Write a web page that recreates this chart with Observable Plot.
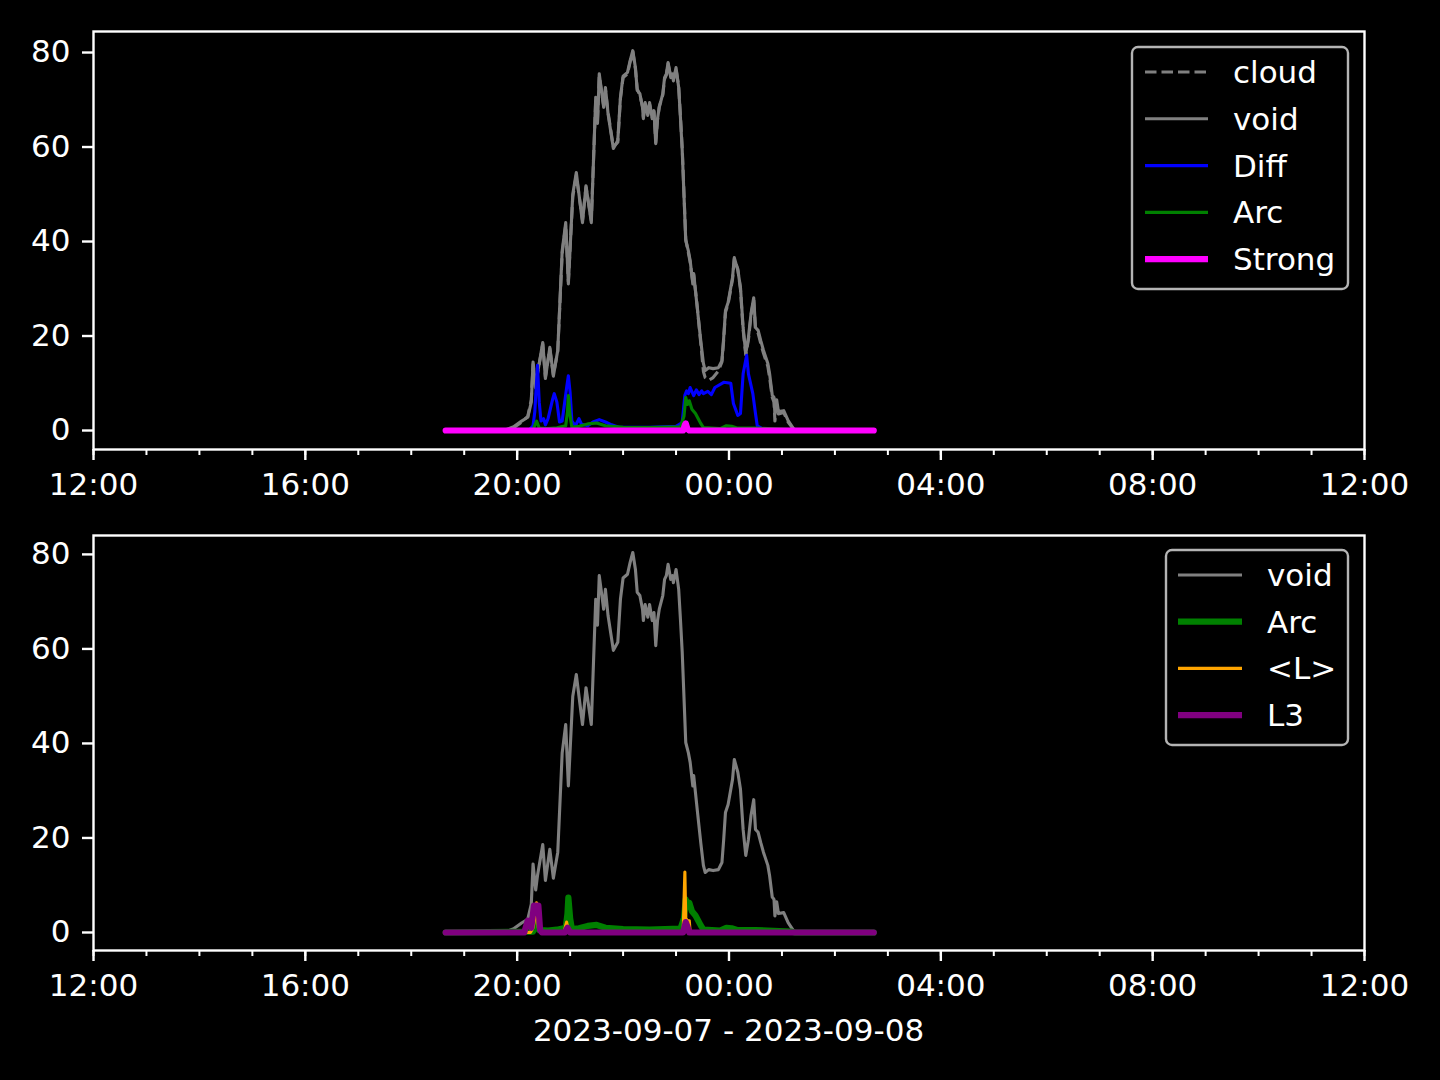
<!DOCTYPE html>
<html>
<head>
<meta charset="utf-8">
<script src="https://cdn.jsdelivr.net/npm/d3@7"></script>
<script src="https://cdn.jsdelivr.net/npm/@observablehq/plot@0.6"></script>
<style>
  html, body { margin: 0; padding: 0; background: #000; }
  #root { position: relative; width: 1440px; height: 1080px; background: #000; overflow: hidden;
          font-family: "DejaVu Sans", sans-serif; color: #fff; }
  .panel { position: absolute; left: 0; }
  .legend { position: absolute; left: 0; top: 0; }
  #xlabel { position: absolute; left: 0; width: 1457px; top: 1010px; text-align: center;
            font-size: 31px; line-height: 40px; }
</style>
</head>
<body>
<div id="root">
  <div id="top" class="panel" style="top:0px"></div>
  <div id="bottom" class="panel" style="top:504px"></div>
  <div id="xlabel"></div>
</div>
<script>
// ---------------- data ----------------
const xLabel = "2023-09-07 - 2023-09-08";
const xDomain = ["2023-09-07T12:00Z", "2023-09-08T12:00Z"];
const majorTickTimes = ["2023-09-07T12:00Z","2023-09-07T16:00Z","2023-09-07T20:00Z","2023-09-08T00:00Z","2023-09-08T04:00Z","2023-09-08T08:00Z","2023-09-08T12:00Z"];
const yTicks = [0, 20, 40, 60, 80];

// shared time grid for void / cloud (HH:MM, hours < 12 belong to 2023-09-08)
const voidTimes = ["18:39","19:45","19:56","20:05","20:12","20:16","20:18","20:21","20:23","20:29",
  "20:32","20:37","20:41","20:46","20:51","20:55","20:58","21:03","21:07","21:14",
  "21:18","21:24","21:29","21:31","21:33","21:38","21:40","21:43","21:49","21:54",
  "21:57","22:00","22:05","22:08","22:11","22:14","22:16","22:19","22:22","22:23",
  "22:25","22:28","22:30","22:33","22:35","22:37","22:39","22:41","22:45","22:47",
  "22:49","22:51","22:54","22:56","22:57","23:00","23:03","23:05","23:07","23:11",
  "23:14","23:16","23:19","23:20","23:24","23:28","23:31","23:33","23:37","23:42",
  "23:48","23:52","23:54","23:56","23:59","00:04","00:06","00:10","00:13","00:16",
  "00:19","00:22","00:25","00:28","00:30","00:33","00:36","00:39","00:44","00:46",
  "00:49","00:51","00:52","00:54","00:56","01:02","01:07","01:13","01:16","02:44"];
const voidValues = [0,0,0.8,2,2.8,6,14.5,9,12,18.6,
  11,17.6,11.5,17,38,44,31,50,54.6,44,
  51.8,44,70.5,65,75.5,68.4,72.6,67,59.7,61.4,
  70.5,75,75.8,78.3,80.4,76.8,72,71.3,68.4,66,
  69.4,66.7,69.4,66,67.7,60.7,66,68.4,71.3,74.7,
  75.5,77.9,74.7,75.5,74,76.8,72.6,66.2,59.3,40.2,
  38,36,31,33.2,26,19,14.2,12.7,13.3,13.1,
  13.3,14.8,19.7,25.4,27.1,32.4,36.6,33.9,30.3,21.8,
  16.3,19.7,24.8,28.1,21.8,21.2,19,17,14.2,12,
  7.5,7,3.5,6.5,4,4.2,2.1,0.4,0,0];
const cloudValues = [0,0,0.6,1.8,3,6.5,14,9.5,12,18.3,
  11.3,17.3,11.8,16.8,37.5,43.5,31.5,49.5,54,44.5,
  51.5,44.5,70,65.5,75,68.8,72.2,67.3,60,61,
  70.2,74.7,75.5,78,80.2,76.5,72.3,71,68.6,66.3,
  69.1,67,69.1,66.3,67.4,61,65.7,68.6,71,74.4,
  75.2,77.6,74.9,75.2,74.3,76.5,72.8,66.5,59.8,40.5,
  37.6,35.6,31.3,33,26.3,18.5,12.5,11.2,10.6,11.2,
  12.6,14.5,19.2,25,26.8,32,36.3,34.2,29.8,21.3,
  16,19.2,24.4,27.8,21.3,20.6,18.4,16.4,13.6,11.2,
  7,6,2,5.5,3.5,3.8,1.8,0.3,0,0];

const diffTimes = ["18:39","20:14","20:18","20:20","20:23","20:25","20:27","20:30","20:32","20:35",
  "20:40","20:42","20:45","20:48","20:51","20:56","20:58","21:00","21:02","21:06",
  "21:10","21:13","21:20","21:26","21:33","21:40","21:47","21:55","22:30","23:00",
  "23:07","23:10","23:12","23:14","23:16","23:20","23:23","23:26","23:29","23:31",
  "23:36","23:40","23:44","23:54","00:02","00:05","00:10","00:13","00:16","00:20",
  "00:22","00:27","00:30","00:32","00:40","02:44"];
const diffValues = [0,0.2,1,4,13.8,6,2,2.5,1.2,2.5,
  6.5,7.8,6,1.8,2,9,11.6,8,2,1,
  2.5,1.3,1,1.8,2.3,1.8,1.2,0.7,0.7,0.9,
  1.7,7.5,8.4,7.8,9.1,7.4,8.6,7.6,8.4,7.8,
  8.3,7.6,9.1,10.2,10,5.7,3.2,3.6,12,15.9,
  12,7.8,3.6,1,0.2,0];

const arcTimes = ["18:39","20:18","20:22","20:25","20:35","20:45","20:55","20:57","20:58","21:00",
  "21:02","21:10","21:20","21:30","21:40","22:00","22:30","23:05","23:09","23:11",
  "23:13","23:15","23:18","23:22","23:28","23:31","23:50","23:57","00:03","00:10",
  "00:30","01:10","01:15","02:44"];
const arcValues = [0,0.2,2,0.5,0.4,0.6,1,4,7.4,3,
  0.7,0.9,1.4,1.6,1,0.7,0.6,0.8,3,7,
  5.5,6.3,4.5,3.6,1.5,0.6,0.4,1,0.9,0.5,
  0.5,0.2,0,0];

const strongTimes = ["18:39","23:08","23:10","23:11","23:13","23:15","02:44"];
const strongValues = [0,0,1.2,1.5,0.3,0,0];

const lAvgTimes = ["18:39","20:15","20:18","20:20","20:22","20:24","20:28","20:53","20:56","20:58",
  "21:00","23:08","23:10","23:11","23:13","23:15","23:16","02:44"];
const lAvgValues = [0,0,1,3,6.3,1,0,0,2.2,0.3,
  0,0,12.8,3,2.5,2.5,0,0];

const l3Times = ["18:39","20:08","20:12","20:14","20:16","20:19","20:24","20:26","20:28","20:54",
  "20:57","21:00","23:08","23:10","23:11","23:13","23:15","02:44"];
const l3Values = [0,0,2.5,2,1,5.7,5.7,0.5,0,0,
  1,0,0,1.5,2.2,1.2,0,0];

// ---------------- helpers ----------------
function toDate(hm) {
  const [h, m] = hm.split(":").map(Number);
  return new Date(Date.UTC(2023, 8, h >= 12 ? 7 : 8, h, m));
}
function series(times, values) {
  return times.map((t, i) => ({t: toDate(t), v: values[i]}));
}
const cloud = series(voidTimes, cloudValues);
const voidS = series(voidTimes, voidValues);
const diff = series(diffTimes, diffValues);
const arc = series(arcTimes, arcValues);
const strong = series(strongTimes, strongValues);
const lAvg = series(lAvgTimes, lAvgValues);
const l3 = series(l3Times, l3Values);

const majorTicks = majorTickTimes.map(d => new Date(d));
const minorTicks = d3.utcHour.range(new Date(xDomain[0]), d3.utcHour.offset(new Date(xDomain[1]), 1));

const FONT = "DejaVu Sans, sans-serif";
const FS = 31;
const W1 = 3.1, W2 = 6.2;

function line(data, color, width, dash) {
  return Plot.line(data, {x: "t", y: "v", stroke: color, strokeWidth: width,
    strokeLinejoin: "round", strokeLinecap: dash ? "butt" : "round",
    strokeDasharray: dash || null});
}

function panel(lineMarks, yDomain, plotH) {
  return Plot.plot({
    width: 1440, height: 505,
    marginTop: 31, marginLeft: 93, marginRight: 76, marginBottom: 505 - 31 - plotH,
    style: {background: "#000", color: "#fff", fontFamily: FONT, fontSize: FS + "px", overflow: "visible"},
    x: {type: "utc", domain: xDomain.map(d => new Date(d))},
    y: {domain: yDomain},
    marks: [
      ...lineMarks,
      Plot.frame({stroke: "#fff", strokeWidth: 2.4}),
      Plot.axisX({ticks: minorTicks, tickSize: 6, tickFormat: () => "", strokeWidth: 2, label: null, stroke: "#fff"}),
      Plot.axisX({ticks: majorTicks, tickSize: 11, tickPadding: 12, tickFormat: d3.utcFormat("%H:%M"),
                  fontSize: FS, strokeWidth: 2.4, label: null, stroke: "#fff", fill: "#fff"}),
      Plot.axisY({ticks: yTicks, tickSize: 11, tickPadding: 12, fontSize: FS, strokeWidth: 2.4,
                  label: null, stroke: "#fff", fill: "#fff"})
    ]
  });
}

document.getElementById("top").append(panel([
  line(cloud, "#808080", W1, "11.5,5"),
  line(voidS, "#808080", W1),
  line(diff, "#0000ff", W1),
  line(arc, "#008000", W1),
  line(strong, "#ff00ff", W2)
], [-4.02, 84.45], 418));

document.getElementById("bottom").append(panel([
  line(voidS, "#808080", W1),
  line(arc, "#008000", W2),
  line(lAvg, "#ffa500", W1),
  line(l3, "#800080", W2)
], [-3.81, 84.0], 415));

document.getElementById("xlabel").textContent = xLabel;

// ---------------- legends ----------------
const topLegend = [
  {name: "cloud", color: "#808080", w: W1, dash: "11.5,5"},
  {name: "void", color: "#808080", w: W1},
  {name: "Diff", color: "#0000ff", w: W1},
  {name: "Arc", color: "#008000", w: W1},
  {name: "Strong", color: "#ff00ff", w: W2}
];
const bottomLegend = [
  {name: "void", color: "#808080", w: W1},
  {name: "Arc", color: "#008000", w: W2},
  {name: "<L>", color: "#ffa500", w: W1},
  {name: "L3", color: "#800080", w: W2}
];

function legend(items, box, rowY, x0, x1, tx) {
  const ns = "http://www.w3.org/2000/svg";
  const svg = document.createElementNS(ns, "svg");
  svg.setAttribute("width", 1440); svg.setAttribute("height", 1080);
  svg.setAttribute("class", "legend");
  const rect = document.createElementNS(ns, "rect");
  rect.setAttribute("x", box[0]); rect.setAttribute("y", box[1]);
  rect.setAttribute("width", box[2] - box[0]); rect.setAttribute("height", box[3] - box[1]);
  rect.setAttribute("rx", 6); rect.setAttribute("fill", "#000"); rect.setAttribute("fill-opacity", 0.8);
  rect.setAttribute("stroke", "#b4b4b4"); rect.setAttribute("stroke-width", 2.4);
  svg.append(rect);
  items.forEach((it, i) => {
    const y = rowY[0] + i * rowY[1];
    const l = document.createElementNS(ns, "line");
    l.setAttribute("x1", x0); l.setAttribute("x2", x1); l.setAttribute("y1", y); l.setAttribute("y2", y);
    l.setAttribute("stroke", it.color); l.setAttribute("stroke-width", it.w);
    if (it.dash) l.setAttribute("stroke-dasharray", it.dash);
    svg.append(l);
    const t = document.createElementNS(ns, "text");
    t.setAttribute("x", tx); t.setAttribute("y", y + 11);
    t.setAttribute("fill", "#fff"); t.setAttribute("font-size", FS);
    t.setAttribute("font-family", FONT);
    t.textContent = it.name;
    svg.append(t);
  });
  document.getElementById("root").append(svg);
}

legend(topLegend, [1132, 47, 1348, 289], [72, 46.8], 1145, 1208, 1233);
legend(bottomLegend, [1166, 550, 1348, 745], [575, 46.7], 1178, 1242, 1267);
</script>
</body>
</html>
